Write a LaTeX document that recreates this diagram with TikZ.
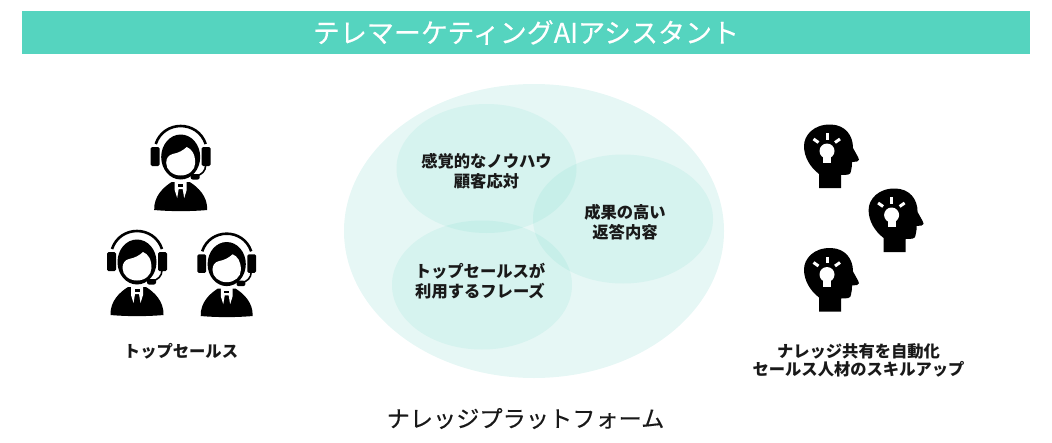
\documentclass[tikz,border=0pt]{standalone}
\usepackage{fontspec}
\setmainfont{Noto Sans CJK JP}
\newfontfamily\midfont[FakeBold=0.25]{Noto Sans CJK JP}
\usepackage{xcolor}
\usetikzlibrary{shapes.geometric, positioning}
\definecolor{bandgreen}{HTML}{55D4BF}
\definecolor{platebg}{HTML}{E6F7F5}
\tikzset{
    label/.style={font=\bfseries\fontsize{16.3}{20}\selectfont, align=center, text=black!90},
    lobe/.style={ellipse, fill=bandgreen, fill opacity=0.11, minimum width=180pt, minimum height=129pt, inner sep=0pt},
    person/.pic={
        % headband and ear cups
        \draw[black, line width=2.6pt] (-25,-16) .. controls (-17,-40) and (17,-40) .. (25,-16);
        \fill[black, rounded corners=1.5pt] (-30,-13) rectangle (-21,6);
        \fill[black, rounded corners=1.5pt] (21,-13) rectangle (30,6);
        % head and face
        \fill[black] (0,-3) ellipse [x radius=19.5pt, y radius=22.5pt];
        \fill[white] (-14.5,3) .. controls (-14.5,-2) and (-12,-5) .. (-8,-6)
            .. controls (-2,-7) and (3,-10) .. (6,-13)
            .. controls (11,-11) and (14.5,-6) .. (14.5,3)
            .. controls (14.5,10) and (8,15.5) .. (0,15.5)
            .. controls (-8,15.5) and (-14.5,10) .. (-14.5,3) -- cycle;
        % microphone
        \draw[black, line width=1.6pt] (25,5) .. controls (25,11) and (21,15) .. (15,16);
        \fill[black, rounded corners=2pt] (10,14) rectangle (19,19.5);
        % body
        \fill[black] (-26.5,50) .. controls (-27,36) and (-17,27) .. (-9,22) -- (9,22)
            .. controls (17,27) and (27,36) .. (26.5,50)
            .. controls (10,51.5) and (-10,51.5) .. (-26.5,50) -- cycle;
        % shirt and tie
        \fill[white] (-6,21) -- (6,21) -- (6,30) -- (3.5,38) -- (2,29) -- (-2,29) -- (-3.5,38) -- (-6,30) -- cycle;
        \fill[black] (-2.5,24) rectangle (2.5,27);
    },
    thinker/.pic={
        % head outline
        \fill[black] (-11,35) -- (11,35) -- (11,22) .. controls (17,22) and (21,22) .. (21,18)
            .. controls (22,15) and (22,11) .. (22,9) -- (27,8.5) .. controls (29.5,8) and (29.5,6) .. (28,4)
            -- (23,-5) .. controls (23,-18) and (15,-28) .. (1,-28.5)
            .. controls (-16,-29) and (-26,-18) .. (-26,-7)
            .. controls (-26,4) and (-20,14) .. (-11,21) -- cycle;
        % bulb and rays
        \fill[white] (-3,-2) circle (7.5pt);
        \fill[white] (-7,2) rectangle (1,10);
        \fill[white] (-4.5,-20) rectangle (-1.5,-13.5);
        \draw[white, line width=3pt] (-16.5,-14) -- (-11.5,-10.5);
        \draw[white, line width=3pt] (5,-10.5) -- (10,-14);
    }
}
\begin{document}
\begin{tikzpicture}[x=1pt, y=-1pt]
    \useasboundingbox (0,0) rectangle (1052,442);
    % Title band
    \node[fill=bandgreen, minimum width=1008pt, minimum height=43pt, inner sep=0pt, text=white,
        font=\midfont\fontsize{27}{30}\selectfont] (title) at (526,32.5) {テレマーケティングAIアシスタント};

    % Platform ellipses
    \node[ellipse, fill=platebg, minimum width=380pt, minimum height=294pt, inner sep=0pt] (plate) at (534,231) {};
    \node[lobe] (lobeknow) at (486.5,168.5) {};
    \node[lobe] (lobereply) at (623,219) {};
    \node[lobe] (lobephrase) at (482,285) {};
    \node[label] (textknow) at (486.5,171.5) {感覚的なノウハウ\\顧客応対};
    \node[label] (textreply) at (625,222) {成果の高い\\返答内容};
    \node[label] (textphrase) at (480,281.5) {トップセールスが\\利用するフレーズ};
    \node[font=\midfont\fontsize{23.2}{26}\selectfont, text=black!90] (platename) at (525.5,418.5) {ナレッジプラットフォーム};

    % Sales people
    \pic at (180.7,160) {person};
    \pic at (137,265) {person};
    \pic[scale=0.98] at (226.7,267) {person};
    \node[label] (salesname) at (181,351) {トップセールス};

    % Thinking heads
    \foreach \x/\y in {830/153, 894.6/217, 830/276.5} {
        \pic at (\x,\y) {thinker};
    }
    \node[label] (skillname) at (858.5,360.5) {ナレッジ共有を自動化\\[-1.5pt]セールス人材のスキルアップ};
\end{tikzpicture}
\end{document}
